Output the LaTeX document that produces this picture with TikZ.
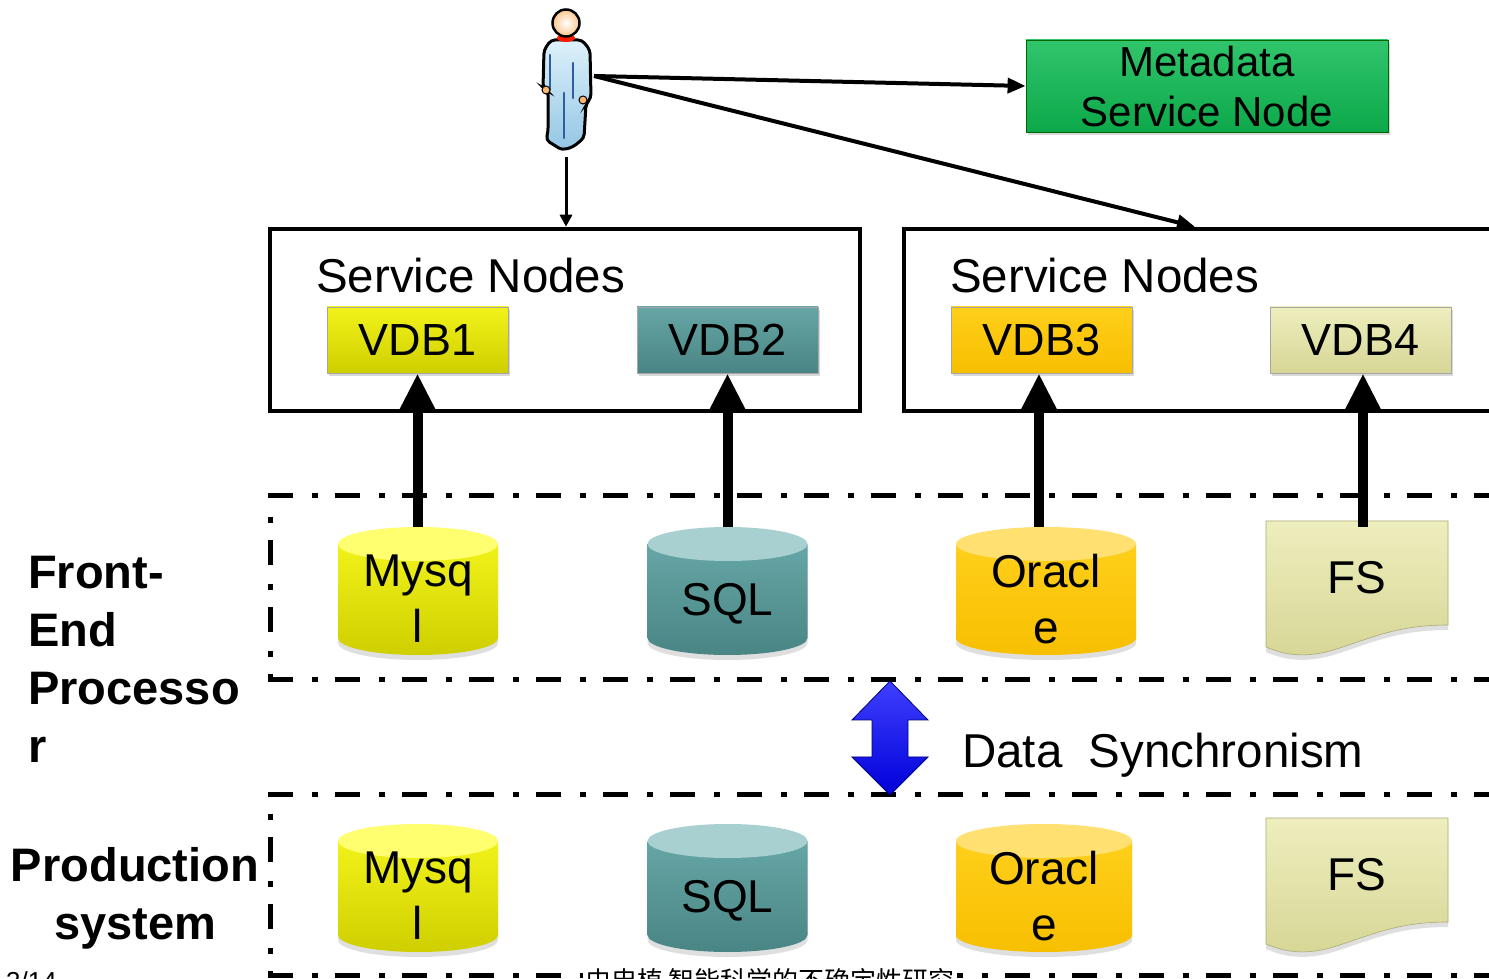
\documentclass[tikz,border=0pt]{standalone}
\usepackage{fontspec}
\setmainfont{Liberation Sans}
\newfontfamily\cjk{Noto Sans CJK SC}
\usetikzlibrary{arrows.meta,shadows}

\definecolor{metagreen}{HTML}{0DBB52}
\definecolor{ylwA}{HTML}{F2F21A}\definecolor{ylwB}{HTML}{CFCF00}\definecolor{ylwT}{HTML}{FFFF70}
\definecolor{tealA}{HTML}{66A6A6}\definecolor{tealB}{HTML}{4A8585}\definecolor{tealT}{HTML}{A8D0D0}
\definecolor{orgA}{HTML}{FFCF1A}\definecolor{orgB}{HTML}{F7BF00}\definecolor{orgT}{HTML}{FFE070}
\definecolor{khkA}{HTML}{EEEEBE}\definecolor{khkB}{HTML}{D6D696}
\definecolor{suitA}{HTML}{DDF1FA}\definecolor{suitB}{HTML}{94C6E4}\definecolor{seam}{HTML}{2D5E9E}

\tikzset{
  svcbox/.style={draw=black, line width=4.5pt, inner sep=0pt},
  vdb/.style={draw=black!35, line width=0.8pt, minimum width=181pt, minimum height=66pt,
    inner sep=0pt, font=\fontsize{45}{54}\selectfont,
    drop shadow={opacity=0.3, shadow xshift=2pt, shadow yshift=-3pt}},
  feed/.style={line width=10pt, -{Triangle[length=39pt,width=36pt]}},
  userarrow/.style={line width=4pt, -{Triangle[length=18pt,width=15pt]}},
  dashdot/.style={line width=5pt, dash pattern=on 25pt off 19pt on 6pt off 17pt},
  dblabel/.style={inner sep=0pt, align=center, font=\fontsize{46}{56}\selectfont},
  sidelabel/.style={inner sep=0pt, font=\bfseries\fontsize{47}{58}\selectfont},
  soft/.style={drop shadow={opacity=0.25, shadow xshift=0pt, shadow yshift=-5pt}},
}

% database cylinder: name, centre x, top y, half width, label, body top, body bottom, cap colour, label drop
\newcommand{\dbcyl}[9]{%
  \path[soft, top color=#6, bottom color=#7]
    (#2-#4,#3-17) -- (#2-#4,#3-111)
    arc[start angle=180, end angle=360, x radius=#4, y radius=17]
    -- (#2+#4,#3-17) -- cycle;
  \fill[#8] (#2,#3-17) ellipse[x radius=#4, y radius=17];
  \node[inner sep=0pt, minimum width={2*#4}, minimum height=128pt, anchor=north] (#1) at (#2,#3) {};
  \node[dblabel] at (#2,#3-#9) {#5};
}
% file store page with a wavy lower edge: name, top y
\newcommand{\fsdoc}[2]{%
  \path[soft, top color=khkA, bottom color=khkB, draw=khkB!80!black, line width=0.6pt]
    (1266,#2) -- (1448,#2) -- (1448,#2-104)
    .. controls (1395,#2-104) and (1370,#2-118) .. (1330,#2-130)
    .. controls (1300,#2-138) and (1280,#2-132) .. (1266,#2-126) -- cycle;
  \node[inner sep=0pt, minimum width=182pt, minimum height=110pt, anchor=north] (#1) at (1357,#2) {};
  \node[dblabel] at (1357,#2-57) {FS};
}

\begin{document}
\begin{tikzpicture}[x=1pt,y=1pt]
\useasboundingbox (0,0) rectangle (1489,978);
\clip (0,0) rectangle (1489,978);
\fill[white] (0,0) rectangle (1489,978);

% ---------- user figure ----------
\node[inner sep=0pt, minimum width=50pt, minimum height=145pt] (user) at (566,899) {};
\coordinate (ua) at (594,902);
\coordinate (ub) at (566,821);
\path[top color=suitA, bottom color=suitB, draw=black, line width=3pt, rounded corners=4pt]
  (551,938) -- (582,938) -- (590,928) -- (591,880) -- (586,874) -- (584,840) -- (573,831)
  -- (562,828) -- (546,838) -- (548,846) -- (548,887) -- (543,890) -- (544,928) -- cycle;
\draw[seam, line width=2.6pt, line cap=round] (550,923) -- (550,888);
\draw[seam, line width=2.6pt, line cap=round] (573,915) -- (573,880);
\draw[seam, line width=2.6pt, line cap=round] (564,885) -- (564,840);
\fill[orange!55!white, draw=black, line width=1pt] (546,888) circle[radius=4];
\fill[orange!55!white, draw=black, line width=1pt] (583,878) circle[radius=4];
\fill[red!80!orange] (566,940) ellipse[x radius=9, y radius=4];
\shade[inner color=white, outer color=orange!45!white, draw=black, line width=2.5pt]
  (566,955) circle[radius=13.5];

% ---------- metadata node ----------
\node[draw=green!40!black, line width=0.8pt, top color=metagreen!85!white, bottom color=metagreen!90!black,
      minimum width=362pt, minimum height=92pt, inner sep=0pt, align=center,
      font=\fontsize{42}{50}\selectfont,
      drop shadow={opacity=0.3, shadow xshift=2pt, shadow yshift=-3pt}]
  (meta) at (1207,892) {Metadata\\Service Node};

% ---------- service node groups ----------
\node[svcbox, minimum width=590pt, minimum height=182pt] (sn1) at (565,658) {};
\node[svcbox, minimum width=620pt, minimum height=182pt] (sn2) at (1214,658) {};
\node[inner sep=0pt, anchor=base west, font=\fontsize{47.5}{57}\selectfont] (sn1t) at (316,685) {Service Nodes};
\node[inner sep=0pt, anchor=base west, font=\fontsize{47.5}{57}\selectfont] (sn2t) at (950,685) {Service Nodes};

\node[vdb, top color=ylwA, bottom color=ylwB] (v1) at (417.5,638) {VDB1};
\node[vdb, top color=tealA, bottom color=tealB] (v2) at (727.5,638) {VDB2};
\node[vdb, top color=orgA, bottom color=orgB] (v3) at (1041.5,638) {VDB3};
\node[vdb, top color=khkA, bottom color=khkB] (v4) at (1360.5,638) {VDB4};

% ---------- user connectors ----------
\draw[userarrow] (ua) -- (meta.west);
\draw[userarrow] (ua) -- (1195,0 |- sn2.north);
\draw[line width=3pt, -{Triangle[length=12pt,width=12pt]}] (ub) -- (ub |- sn1.north);

% ---------- dash-dot regions ----------
\draw[dashdot] (268,482) -- (1500,482);
\draw[dashdot] (268,298) -- (1500,298);
\draw[dashdot, dash phase=23pt] (270,482) -- (270,298);
\draw[dashdot] (268,183) -- (1500,183);
\draw[dashdot] (268,3) -- (1500,3);
\draw[dashdot, dash phase=25pt] (270,183) -- (270,3);

% ---------- front-end databases ----------
\dbcyl{m1}{418}{451}{80}{Mysq\\l}{ylwA}{ylwB}{ylwT}{72}
\dbcyl{s1}{727.5}{451}{80}{SQL}{tealA}{tealB}{tealT}{77}
\dbcyl{o1}{1046}{451}{90}{Oracl\\e}{orgA}{orgB}{orgT}{72}
\fsdoc{f1}{457}

% ---------- production databases ----------
\dbcyl{m2}{418}{154}{80}{Mysq\\l}{ylwA}{ylwB}{ylwT}{72}
\dbcyl{s2}{727.5}{154}{80}{SQL}{tealA}{tealB}{tealT}{77}
\dbcyl{o2}{1044}{154}{88}{Oracl\\e}{orgA}{orgB}{orgT}{72}
\fsdoc{f2}{160}

% ---------- feeds into the service nodes ----------
\draw[feed] (v1.south |- m1.north) -- (v1.south);
\draw[feed] (v2.south |- s1.north) -- (v2.south);
\draw[feed] (1039,0 |- o1.north) -- (1039,0 |- v3.south);
\draw[feed] (1363,0 |- m1.north) -- (1363,0 |- v4.south);

% ---------- synchronisation ----------
\path[top color=blue!75!white, bottom color=blue!85!black, draw=blue!50!black, line width=0.8pt]
  (890,297) -- (928,258) -- (908,258) -- (908,221) -- (928,221) -- (890,183)
  -- (852,221) -- (872,221) -- (872,258) -- (852,258) -- cycle;
\node[inner sep=0pt, anchor=base west, font=\fontsize{47.5}{57}\selectfont] (sync) at (962,210) {Data\ \ Synchronism};

% ---------- side labels ----------
\node[sidelabel, anchor=north west, align=left] (fe) at (28,422) {Front-\\End\\Processo\\r};
\node[sidelabel, anchor=north, align=center] (ps) at (135,131) {Production\\system};

% ---------- footer ----------
\node[inner sep=0pt, anchor=base west, font=\fontsize{26}{30}\selectfont] (pg) at (6,-12) {3/14};
\node[fill=white, inner sep=2pt, anchor=base, font=\cjk\fontsize{26}{30}\selectfont] (ft) at (770,-12) {史忠植 智能科学的不确定性研究};
\end{tikzpicture}
\end{document}
